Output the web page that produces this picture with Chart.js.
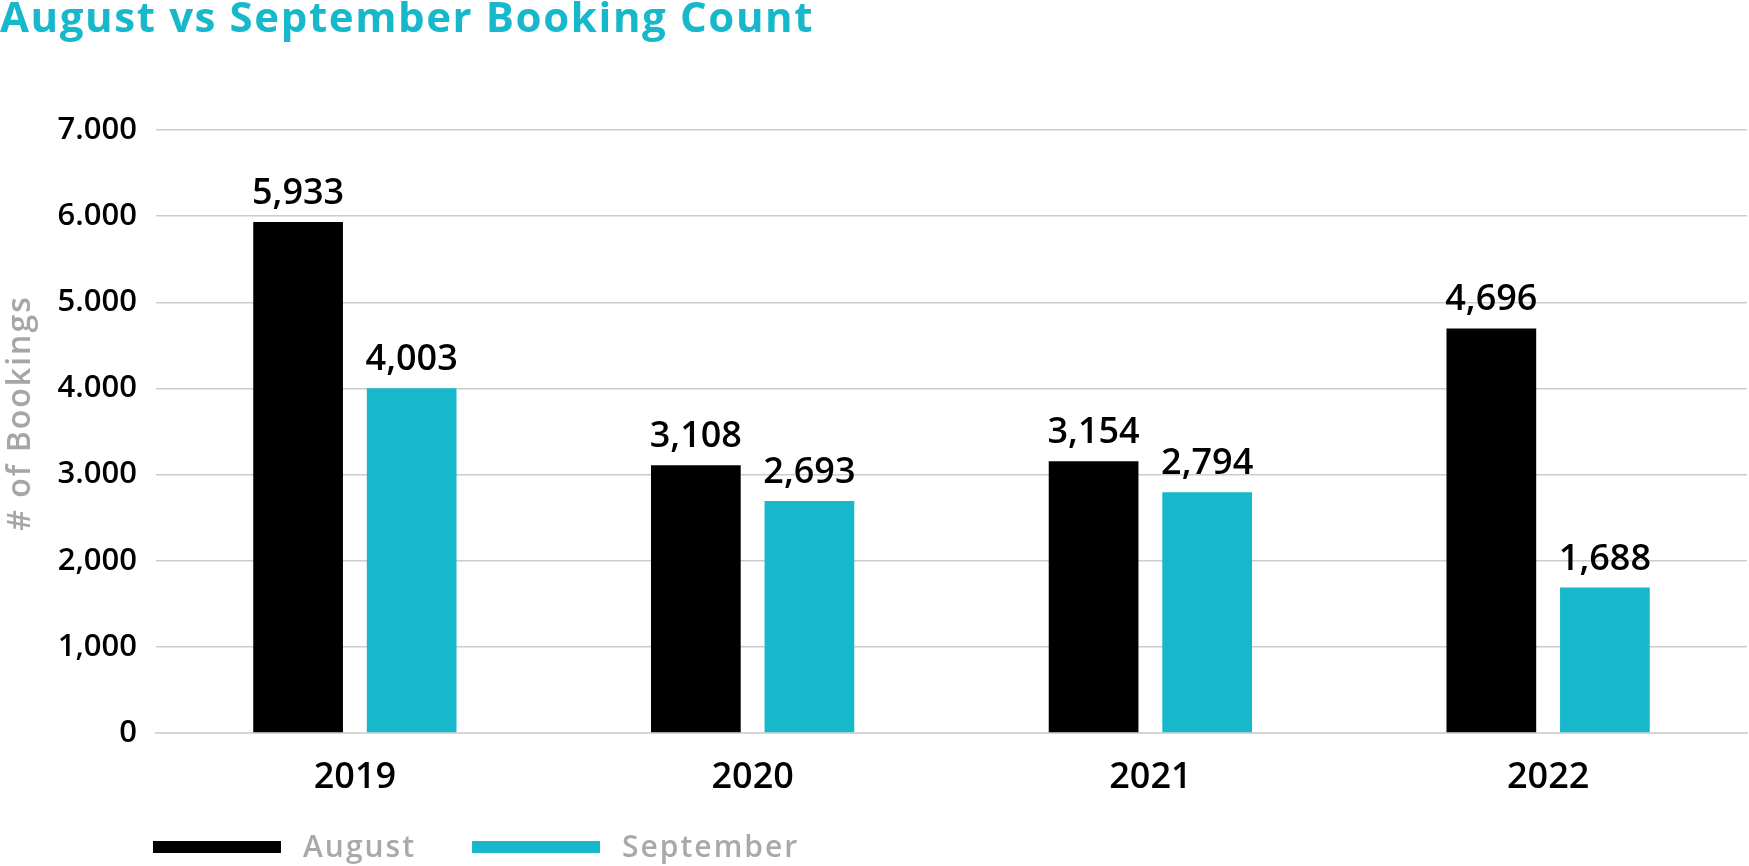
<!DOCTYPE html>
<html>
<head>
<meta charset="utf-8">
<script src="https://cdn.jsdelivr.net/npm/chart.js@4"></script>
<style>
  html, body { margin: 0; padding: 0; background: #fff; }
  #wrap { width: 1749px; height: 866px; }
</style>
</head>
<body>
<div id="wrap"><canvas id="chart"></canvas></div>
<script>
/* data */
const years = ['2019', '2020', '2021', '2022'];
const august = [5933, 3108, 3154, 4696];
const september = [4003, 2693, 2794, 1688];
const yTickLabels = ['0', '1,000', '2,000', '3.000', '4.000', '5.000', '6.000', '7.000'];
const seriesNames = ['August', 'September'];
const yTitle = '# of Bookings';

const TEAL = '#17b8cb';

/* title, axis title, value labels and legend drawn on the canvas */
const extras = {
  id: 'extras',
  afterDatasetsDraw(chart) {
    const ctx = chart.ctx;
    ctx.save();
    ctx.font = '600 36px "Open Sans"';
    ctx.fillStyle = '#000';
    ctx.textAlign = 'center';
    ctx.textBaseline = 'alphabetic';
    chart.data.datasets.forEach((ds, i) => {
      chart.getDatasetMeta(i).data.forEach((bar, j) => {
        ctx.fillText(ds.data[j].toLocaleString('en-US'), bar.x, bar.y - 18);
      });
    });
    ctx.restore();
  },
  afterDraw(chart) {
    const ctx = chart.ctx;
    ctx.save();
    // title
    ctx.font = 'bold 42px "Open Sans"';
    ctx.letterSpacing = '1.6px';
    ctx.fillStyle = TEAL;
    ctx.textAlign = 'left';
    ctx.textBaseline = 'alphabetic';
    ctx.fillText('August vs September Booking Count', 0, 32);

    // y axis title
    ctx.save();
    ctx.translate(30, 413);
    ctx.rotate(-Math.PI / 2);
    ctx.font = '600 32px "Open Sans"';
    ctx.letterSpacing = '2px';
    ctx.fillStyle = '#a6a6a6';
    ctx.textAlign = 'center';
    ctx.fillText(yTitle, 0, 0);
    ctx.restore();

    // legend
    let x = 153;
    ctx.font = '600 30px "Open Sans"';
    ctx.letterSpacing = '2px';
    chart.data.datasets.forEach((ds) => {
      ctx.fillStyle = ds.backgroundColor;
      ctx.fillRect(x, 841, 128, 12);
      x += 128 + 22;
      ctx.fillStyle = '#a9a9ad';
      ctx.fillText(ds.label, x, 857);
      x += ctx.measureText(ds.label).width + 56;
    });
    ctx.restore();
  }
};

new Chart(document.getElementById('chart'), {
  type: 'bar',
  data: {
    labels: years,
    datasets: [
      { label: seriesNames[0], data: august, backgroundColor: '#000000' },
      { label: seriesNames[1], data: september, backgroundColor: TEAL }
    ]
  },
  options: {
    responsive: true,
    maintainAspectRatio: false,
    animation: false,
    categoryPercentage: 0.571,
    barPercentage: 0.79,
    layout: { padding: { top: 130, right: 2, bottom: 75, left: 0 } },
    plugins: {
      legend: { display: false },
      title: { display: false },
      tooltip: { enabled: false }
    },
    scales: {
      x: {
        grid: { display: false },
        border: { display: true, color: '#d6d6d6', width: 2 },
        ticks: {
          color: '#000',
          padding: 15,
          font: { family: 'Open Sans', size: 36, weight: '600' }
        },
        afterFit: (s) => { s.height = 58; }
      },
      y: {
        min: 0,
        max: 7000,
        ticks: {
          stepSize: 1000,
          color: '#000',
          padding: 19,
          font: { family: 'Open Sans', size: 31, weight: '600' },
          callback: (value, index) => yTickLabels[index]
        },
        grid: { color: '#cccccc', lineWidth: 1.5, drawTicks: false },
        border: { display: false },
        afterFit: (s) => { s.width = 156; }
      }
    }
  },
  plugins: [extras]
});
</script>
</body>
</html>
